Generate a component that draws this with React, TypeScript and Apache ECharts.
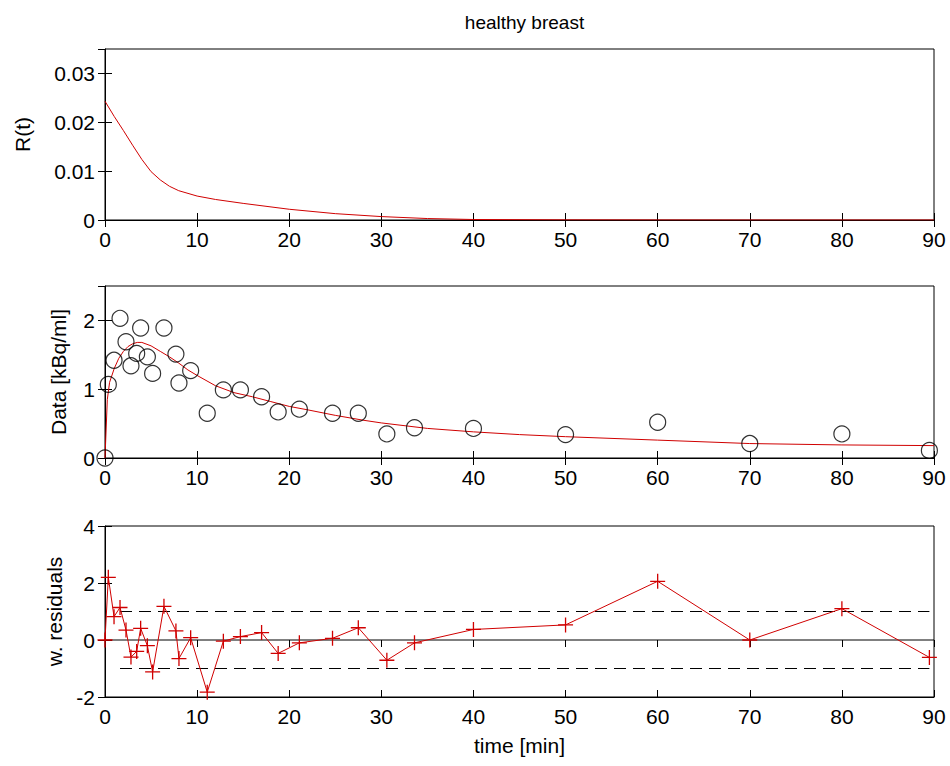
import React, { useEffect, useRef } from "react";
import * as echarts from "echarts";

// ---- Data ----
const xTickStep = 10;

// R(t) curve (top panel)
const rTime = [0, 1, 2, 3, 4, 5, 6, 7, 8, 10, 12, 15, 20, 25, 30, 35, 40, 50, 60, 70, 80, 90];
const rValue = [0.0243, 0.0212, 0.0183, 0.0153, 0.0124, 0.0099, 0.0082, 0.0069, 0.006, 0.0049, 0.0042, 0.0034, 0.0022, 0.0013, 0.0007, 0.0003, 0.0001, 0.00003, 0.00001, 0, 0, 0];

// fitted curve (middle panel)
const fitTime = [0, 0.25, 0.5, 1, 1.5, 2, 2.5, 3, 3.5, 4, 5, 6, 7, 8, 9, 10, 12, 14, 16, 18, 20, 22, 25, 28, 30, 35, 40, 45, 50, 60, 70, 80, 90];
const fitValue = [0, 0.85, 1.1, 1.3, 1.45, 1.55, 1.62, 1.66, 1.68, 1.68, 1.63, 1.55, 1.47, 1.38, 1.28, 1.2, 1.05, 0.95, 0.89, 0.82, 0.75, 0.7, 0.62, 0.55, 0.51, 0.43, 0.38, 0.34, 0.31, 0.26, 0.21, 0.19, 0.18];

// measured data (middle panel, circles)
const dataTime = [0, 0.36, 0.98, 1.63, 2.28, 2.82, 3.44, 3.87, 4.6, 5.17, 6.4, 7.7, 8.03, 9.3, 11.1, 12.85, 14.7, 17.0, 18.8, 21.1, 24.7, 27.5, 30.6, 33.6, 40, 50, 60, 70, 80, 89.5];
const dataValue = [0, 1.07, 1.42, 2.03, 1.69, 1.34, 1.52, 1.89, 1.47, 1.23, 1.89, 1.51, 1.09, 1.27, 0.65, 0.99, 0.99, 0.89, 0.67, 0.71, 0.65, 0.65, 0.35, 0.44, 0.43, 0.34, 0.52, 0.21, 0.35, 0.11];

// weighted residuals (bottom panel)
const residualValue = [0, 2.2, 0.82, 1.14, 0.35, -0.6, -0.4, 0.41, -0.2, -1.12, 1.18, 0.32, -0.65, 0.08, -1.83, -0.04, 0.12, 0.26, -0.47, -0.1, 0.06, 0.43, -0.71, -0.1, 0.37, 0.53, 2.06, 0.0, 1.1, -0.61];

// reference lines in the residual panel
const bandLevel = 1;
const bandStart = 1.63;
const bandEnd = 89.5;

const FONT = "'Liberation Sans', Arial, sans-serif";
const RED = "#d00000";

export default function App() {
  const ref = useRef<HTMLDivElement>(null);

  useEffect(() => {
    const chart = echarts.init(ref.current!, null, { renderer: "svg" });

    const grids = [
      { left: 105, top: 49, width: 829, height: 171 },
      { left: 105, top: 286, width: 829, height: 172 },
      { left: 105, top: 526, width: 829, height: 171 },
    ].map((g) => ({ ...g, show: true, borderColor: "#000", borderWidth: 1, backgroundColor: "#fff", containLabel: false }));

    const tick = { show: true, inside: true, length: 7, lineStyle: { color: "#000", width: 1 } };
    const label = { color: "#000", fontSize: 21, fontFamily: FONT };

    const xAxes: any[] = [];
    const yAxes: any[] = [];
    for (let i = 0; i < 3; i++) {
      xAxes.push({
        type: "value", gridIndex: i, min: 0, max: 90, interval: xTickStep, position: "bottom",
        axisLine: { show: true, onZero: false, lineStyle: { color: "#000" } },
        axisTick: tick, splitLine: { show: false },
        axisLabel: { ...label, margin: 9 },
        name: i === 2 ? "time [min]" : "",
        nameLocation: "middle", nameGap: 38,
        nameTextStyle: { color: "#000", fontSize: 21, fontFamily: FONT },
      });
      xAxes.push({
        type: "value", gridIndex: i, min: 0, max: 90, interval: xTickStep, position: "top",
        axisLine: { show: false }, axisTick: tick, axisLabel: { show: false }, splitLine: { show: false },
      });
    }
    const ySpecs = [
      { min: 0, max: 0.035, interval: 0.01, name: "R(t)", gap: 72 },
      { min: 0, max: 2.5, interval: 1, name: "Data [kBq/ml]", gap: 36 },
      { min: -2, max: 4, interval: 2, name: "w. residuals", gap: 40 },
    ];
    ySpecs.forEach((s, i) => {
      yAxes.push({
        type: "value", gridIndex: i, min: s.min, max: s.max, interval: s.interval, position: "left",
        axisLine: { show: true, onZero: false, lineStyle: { color: "#000" } },
        axisTick: tick, splitLine: { show: false },
        axisLabel: { ...label, margin: 10, showMaxLabel: s.max % s.interval === 0 },
        name: s.name, nameLocation: "middle", nameGap: s.gap, nameRotate: 90,
        nameTextStyle: { color: "#000", fontSize: 21, fontFamily: FONT },
      });
      yAxes.push({
        type: "value", gridIndex: i, min: s.min, max: s.max, interval: s.interval, position: "right",
        axisLine: { show: false }, axisTick: tick, axisLabel: { show: false }, splitLine: { show: false },
      });
    });

    const zip = (xs: number[], ys: number[]) => xs.map((x, k) => [x, ys[k]]);

    const option: any = {
      animation: false,
      backgroundColor: "#fff",
      title: {
        text: "healthy breast", left: 519.5, top: 8, textAlign: "center",
        textStyle: { color: "#000", fontSize: 19, fontWeight: "normal", fontFamily: FONT },
      },
      grid: grids,
      xAxis: xAxes,
      yAxis: yAxes,
      series: [
        {
          type: "line", xAxisIndex: 0, yAxisIndex: 0, data: zip(rTime, rValue),
          showSymbol: false, lineStyle: { color: RED, width: 1 }, itemStyle: { color: RED },
        },
        {
          type: "line", xAxisIndex: 2, yAxisIndex: 2, data: zip(fitTime, fitValue),
          showSymbol: false, lineStyle: { color: RED, width: 1 }, itemStyle: { color: RED },
        },
        {
          type: "scatter", xAxisIndex: 2, yAxisIndex: 2, data: zip(dataTime, dataValue),
          symbol: "circle", symbolSize: 16, z: 3,
          itemStyle: { color: "rgba(0,0,0,0)", borderColor: "#000", borderWidth: 1.2 },
        },
        {
          type: "line", xAxisIndex: 4, yAxisIndex: 4, data: [[0, 0], [90, 0]],
          showSymbol: false, lineStyle: { color: "#000", width: 1 }, z: 1,
        },
        {
          type: "line", xAxisIndex: 4, yAxisIndex: 4, data: [[bandStart, bandLevel], [bandEnd, bandLevel]],
          showSymbol: false, lineStyle: { color: "#000", width: 1, type: [12, 7] }, z: 1,
        },
        {
          type: "line", xAxisIndex: 4, yAxisIndex: 4, data: [[bandStart, -bandLevel], [bandEnd, -bandLevel]],
          showSymbol: false, lineStyle: { color: "#000", width: 1, type: [12, 7] }, z: 1,
        },
        {
          type: "line", xAxisIndex: 4, yAxisIndex: 4, data: zip(dataTime, residualValue),
          symbol: "path://M7,0 L7,14 M0,7 L14,7", symbolSize: 15, showSymbol: true, z: 4,
          lineStyle: { color: RED, width: 1 },
          itemStyle: { color: RED, borderColor: RED, borderWidth: 1.3 },
        },
      ],
    };

    chart.setOption(option);
    return () => chart.dispose();
  }, []);

  return (
    <div
      ref={ref}
      style={{ position: "absolute", left: 0, top: 0, width: 950, height: 766, background: "#fff" }}
    />
  );
}
